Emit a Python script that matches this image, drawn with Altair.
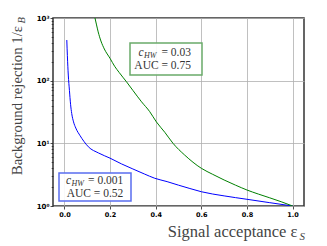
import altair as alt
import pandas as pd

# ---- data ----
blue_x = [0.0105, 0.013, 0.017, 0.022, 0.027, 0.032, 0.04, 0.05, 0.069, 0.085, 0.105,
          0.15, 0.2, 0.25, 0.3, 0.35, 0.396, 0.45, 0.5, 0.55, 0.6, 0.7, 0.8, 0.9, 1.0]
blue_y = [445, 250, 123, 70, 42, 30, 22, 17.5, 13.2, 10.8, 8.8,
          7.0, 5.8, 4.7, 3.9, 3.25, 2.77, 2.45, 2.15, 1.9, 1.69, 1.45, 1.28, 1.13, 1.0]
green_x = [0.134, 0.14, 0.148, 0.16, 0.175, 0.2, 0.22, 0.24, 0.272, 0.3, 0.338, 0.374,
           0.403, 0.44, 0.476, 0.527, 0.6, 0.65, 0.7, 0.75, 0.8, 0.85, 0.9, 0.95, 1.0]
green_y = [1000, 800, 600, 430, 320, 227, 170, 135, 96, 70, 46, 32,
           22, 15, 10, 6.5, 4.0, 3.2, 2.6, 2.15, 1.8, 1.55, 1.35, 1.17, 1.0]
series_names = ["c_HW = 0.001", "c_HW = 0.03"]
series_colors = ["#0000ff", "#008000"]
x_ticks = [0.0, 0.2, 0.4, 0.6, 0.8, 1.0]
y_major = [1, 10, 100, 1000]
y_minor = [m * d for d in (1, 10, 100) for m in range(2, 10)]

rows = [{"s": series_names[0], "x": a, "y": b, "o": i} for i, (a, b) in enumerate(zip(blue_x, blue_y))]
rows += [{"s": series_names[1], "x": a, "y": b, "o": i} for i, (a, b) in enumerate(zip(green_x, green_y))]
df = pd.DataFrame(rows)

W, H = 251, 188
major_test = "datum.value == 1 || datum.value == 10 || datum.value == 100 || datum.value == 1000"
label_expr = ("datum.value == 1 ? '10\u2070' : datum.value == 10 ? '10\u00b9' : "
              "datum.value == 100 ? '10\u00b2' : datum.value == 1000 ? '10\u00b3' : ''")

lines = alt.Chart(df).mark_line(strokeWidth=1, clip=True, interpolate="monotone").encode(
    x=alt.X("x:Q", scale=alt.Scale(domain=[-0.05, 1.05], nice=False, zero=False),
            axis=alt.Axis(values=x_ticks, format=".1f", title=None, domain=False,
                          labelFont="DejaVu Sans", labelFontWeight="bold", labelFontSize=6.5,
                          labelColor="#000", labelPadding=2, tickSize=3, tickColor="#222",
                          tickWidth=0.8, grid=True, gridColor="#b0b0b0", gridWidth=0.8)),
    y=alt.Y("y:Q", scale=alt.Scale(type="log", domain=[1, 1000], nice=False),
            axis=alt.Axis(values=y_major + y_minor, labelExpr=label_expr, title=None, domain=False,
                          labelFont="DejaVu Sans", labelFontWeight="bold", labelFontSize=7,
                          labelColor="#000", labelPadding=1, tickColor="#222", tickWidth=0.8,
                          tickSize={"condition": {"test": major_test, "value": 3}, "value": 1.8},
                          grid=True, gridColor="#b0b0b0", gridWidth=0.8,
                          gridOpacity={"condition": {"test": major_test, "value": 1}, "value": 0})),
    color=alt.Color("s:N", scale=alt.Scale(domain=series_names, range=series_colors), legend=None),
    order="o:Q",
)

one = pd.DataFrame({"k": [0]})


def box(x1, x2, y1, y2, color):
    return alt.Chart(one).mark_rect(fill="white", fillOpacity=0.9, stroke=color, strokeWidth=1.5).encode(
        x=alt.value(x1), x2=alt.value(x2), y=alt.value(y1), y2=alt.value(y2))


def txt(t, x, y, size=11.5, align="left", style="normal", angle=0, color="#333", baseline="alphabetic"):
    return alt.Chart(one).mark_text(text=t, font="Liberation Serif", fontSize=size, align=align,
                                    fontStyle=style, angle=angle, color=color, baseline=baseline).encode(
        x=alt.value(x), y=alt.value(y))


layers = [lines,
          box(6, 78, 155, 183, "#5a6ef0"),
          box(77, 149, 25, 57, "#6aaa6a"),
          # blue legend text
          txt("c", 18, 165.5, align="right", style="italic"),
          txt("HW", 31, 167.5, size=8, align="right", style="italic"),
          txt("= 0.001", 70.3, 165.5, align="right"),
          txt("AUC = 0.52", 70.3, 179, align="right"),
          # green legend text
          txt("c", 90.5, 37.5, align="right", style="italic"),
          txt("HW", 103.5, 39.5, size=8, align="right", style="italic"),
          txt("= 0.03", 138, 37.5, align="right"),
          txt("AUC = 0.75", 138, 51, align="right"),
          # axis titles
          txt("Signal acceptance \u03b5", 244.5, 219, size=16.5, align="right", color="#444"),
          txt("S", 252, 222, size=11, align="right", style="italic", color="#444"),
          txt("Background rejection 1/\u03b5", -31.5, 8, size=14.8, align="right", angle=270, color="#444"),
          txt("B", -28.5, -1, size=10.5, align="right", style="italic", angle=270, color="#444"),
          ]

chart = alt.layer(*layers).properties(
    width=W, height=H,
    autosize=alt.AutoSizeParams(type="none"),
    padding={"left": 45, "top": 10, "right": 15, "bottom": 36},
    background="white",
).configure_view(stroke="#333", strokeWidth=1.5)

chart.save("out.html", embed_options={"renderer": "svg", "actions": False})
